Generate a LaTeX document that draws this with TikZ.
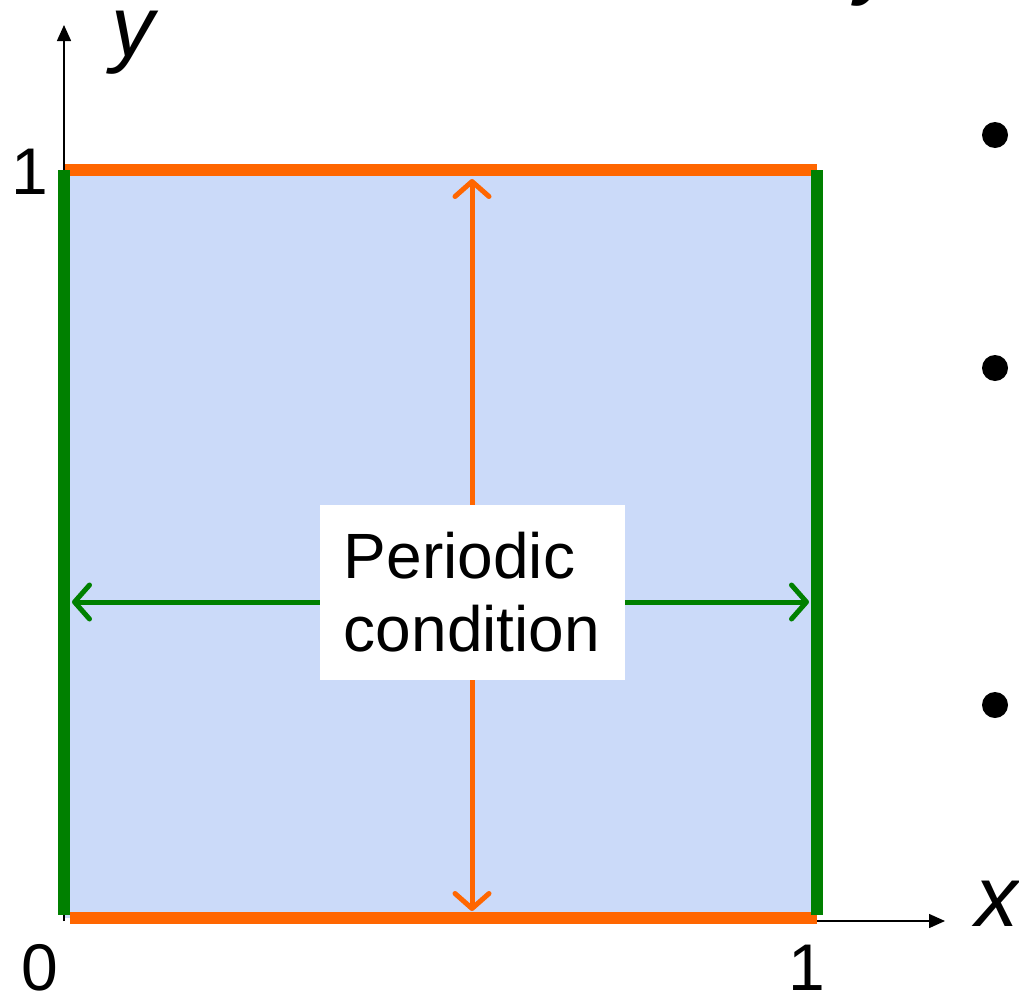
\documentclass[tikz,border=0pt]{standalone}
\usepackage{fontspec}
\setmainfont{Liberation Sans}
\usetikzlibrary{arrows.meta}
\definecolor{porange}{RGB}{255,102,0}
\definecolor{pgreen}{RGB}{0,128,0}
\definecolor{pfill}{RGB}{203,218,249}
\tikzset{
  edgeline/.style={line width=12pt},
  condarrow/.style={line width=5pt, line cap=round, {Straight Barb[round,length=15pt,width=34pt]}-{Straight Barb[round,length=15pt,width=34pt]}},
  axisline/.style={line width=1.5pt, -{Triangle[length=16pt,width=14pt]}},
  ticklabel/.style={font=\fontsize{66}{76}\selectfont, inner sep=0pt},
  axislabel/.style={font=\fontsize{86}{96}\selectfont\itshape, inner sep=0pt},
  bulletdot/.style={circle, fill=black, minimum size=26pt, inner sep=0pt}
}
\begin{document}
\begin{tikzpicture}[x=1pt,y=-1pt]
\useasboundingbox (0,0) rectangle (1019,996);
% corners
\coordinate (O) at (64,921);
\coordinate (TR) at (817,170);
\coordinate (BR) at (817,918);
\coordinate (yend) at (64,25);
\coordinate (xend) at (945,921);
% fill
\fill[pfill] (64,170) rectangle (817,918);
% axes
\draw[axisline] (O) -- (yend);
\draw[axisline] (816,921) -- (xend);
% orange edges
\draw[edgeline, porange] (65,170) -- (TR);
\draw[edgeline, porange] (70,918) -- (BR);
% green edges
\draw[edgeline, pgreen] (64,170) -- (64,915);
\draw[edgeline, pgreen] (817,170) -- (817,915);
% condition arrows
\coordinate (atop) at (472,179);
\coordinate (abot) at (472,911);
\coordinate (aleft) at (72,602);
\coordinate (aright) at (809,602);
\draw[condarrow, porange] (atop) -- (abot);
\draw[condarrow, pgreen] (aleft) -- (aright);
% label
\node[fill=white, minimum width=305pt, minimum height=175pt, align=left, inner sep=0pt,
      font=\fontsize{64}{73}\selectfont] (lbl) at (472,592) {Periodic\\condition};
% tick labels
\node[ticklabel] (one y) at (30,172) {1};
\node[ticklabel] (zero) at (40,968) {0};
\node[ticklabel] (one x) at (807,968) {1};
% axis labels
\node[axislabel] (ylab) at (133,43) {y};
\node[axislabel] (xlab) at (997,904) {x};
% bullets
\node[bulletdot] (b1) at (995,135) {};
\node[bulletdot] (b2) at (995,368) {};
\node[bulletdot] (b3) at (995,705) {};
% clipped title fragment
\begin{scope}
\clip (0,0) rectangle (1019,996);
\node[axislabel, anchor=base] (tfrag) at (878,-12) {y};
\end{scope}
\end{tikzpicture}
\end{document}
